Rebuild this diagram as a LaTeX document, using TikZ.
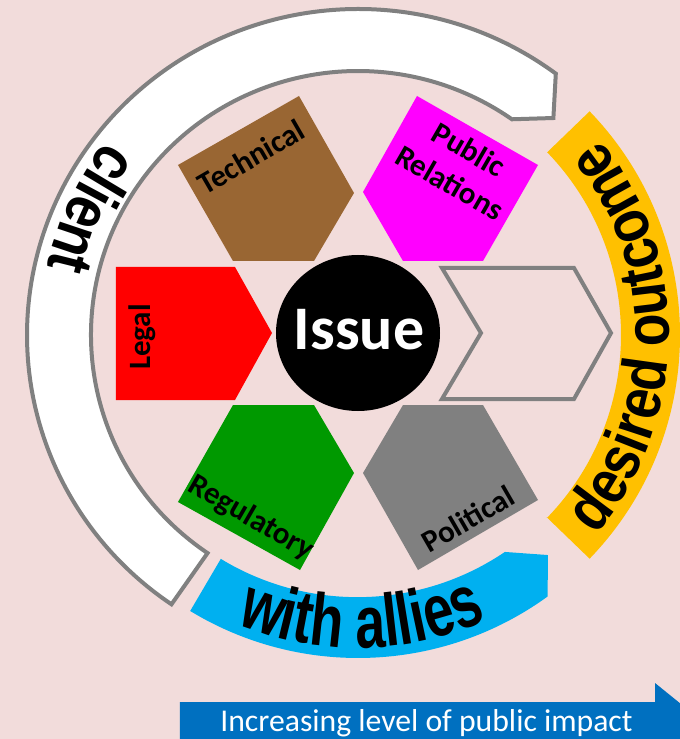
\documentclass[tikz,border=0pt]{standalone}
\usepackage{fontspec}
\setmainfont{Carlito}
\newfontfamily\allyfont[FakeStretch=0.73]{Liberation Sans}
\newfontfamily\outfont[FakeStretch=0.85]{Liberation Sans}
\newfontfamily\clientfont[FakeStretch=0.84]{Liberation Sans}
\usetikzlibrary{decorations.text}
\definecolor{bgpink}{HTML}{F2DCDB}
\definecolor{legalred}{HTML}{FF0000}
\definecolor{techbrown}{HTML}{996633}
\definecolor{prmagenta}{HTML}{FF00FF}
\definecolor{reggreen}{HTML}{009900}
\definecolor{polgray}{HTML}{808080}
\definecolor{linegray}{HTML}{808080}
\definecolor{allyblue}{HTML}{00B0F0}
\definecolor{outorange}{HTML}{FFC000}
\definecolor{arrowblue}{HTML}{0070C0}
\tikzset{
  lbl/.style={font=\bfseries\fontsize{31}{38}\selectfont, text=black, inner sep=0pt, align=center},
  grayline/.style={draw=linegray, line width=4pt, line join=miter},
}
\begin{document}
\begin{tikzpicture}[x=1pt,y=1pt]
\useasboundingbox (-358,-404) rectangle (322,335);
\fill[bgpink] (-358,-404) rectangle (322,335);
\begin{scope}
\clip (-358,-404) rectangle (322,335);

% outer white arc (client)
\draw[grayline, fill=white]
  ({331*cos(53.3)},{326*sin(53.3)}) arc[start angle=53.3, end angle=235.7, x radius=331, y radius=326]
  -- ({267*cos(235.7)},{264*sin(235.7)}) arc[start angle=235.7, end angle=54.8, x radius=267, y radius=264]
  -- (48:292) -- cycle;

% blue arc (with allies)
\fill[allyblue] (238.7:323) arc[start angle=238.7, end angle=305.95, radius=323]
  -- (310.8:290.7) -- (304.1:262) arc[start angle=304.1, end angle=238.7, radius=263] -- cycle;

% orange arc (desired outcome)
\fill[outorange] (-44:262) -- (-44:322) arc[start angle=-44, end angle=44, radius=322]
  -- (44:263) arc[start angle=44, end angle=-44, radius=263] -- cycle;

% texts along arcs
\path[decorate, decoration={text along path, text align=center,
  text={|\clientfont\bfseries\fontsize{64}{64}\selectfont|client}}]
  (130:318) arc[start angle=130, end angle=180, radius=318];
\path[decorate, decoration={text along path, text align=center,
  text={|\allyfont\bfseries\fontsize{74}{74}\selectfont|with allies}}]
  (221:313) arc[start angle=221, end angle=320.5, radius=313];
\path[decorate, decoration={text along path, text align=center,
  text={|\outfont\bfseries\fontsize{63}{63}\selectfont|desired outcome}}]
  (-60:311) arc[start angle=-60, end angle=59, radius=311];

% pentagons
\fill[legalred] (-242,68) -- (-123,68) -- (-86,2) -- (-123,-65) -- (-242,-65) -- cycle;
\fill[techbrown] (-180,170) -- (-59,239) -- (-4,142) -- (-44,74) -- (-125,74) -- cycle;
\fill[prmagenta] (59,239) -- (180,170) -- (125,74) -- (45,74) -- (5,143) -- cycle;
\fill[reggreen] (-125,-70) -- (-44,-70) -- (-4,-138) -- (-58,-235) -- (-180,-167) -- cycle;
\fill[polgray] (45,-70) -- (125,-70) -- (180,-165) -- (60,-235) -- (5,-138) -- cycle;
\draw[grayline] (84,67) -- (216,67) -- (253,2) -- (216,-64) -- (84,-64) -- (123,2) -- cycle;

% center circle
\fill[black] (0,2) ellipse[x radius=82, y radius=78];
\node[font=\bfseries\fontsize{62}{62}\selectfont, text=white, inner sep=0pt] (issue) at (1,5) {Issue};

% labels
\node[lbl, rotate=30] (tech) at (-107,178) {Technical};
\node[lbl, rotate=-30] (pr) at (101.5,169) {Public\\Relations};
\node[lbl, rotate=90] (legal) at (-216,-2) {Legal};
\node[lbl, rotate=-30] (reg) at (-107,-183) {Regulatory};
\node[lbl, rotate=30] (pol) at (110,-184) {Political};

% bottom arrow
\fill[arrowblue] (-178,-367) -- (297,-367) -- (297,-348) -- (344,-386) -- (297,-424) -- (297,-405) -- (-178,-405) -- cycle;
\node[font=\fontsize{31.7}{32}\selectfont, text=white, anchor=base, inner sep=0pt] (impact) at (68.5,-396.7) {Increasing level of public impact};
\end{scope}
\end{tikzpicture}
\end{document}
